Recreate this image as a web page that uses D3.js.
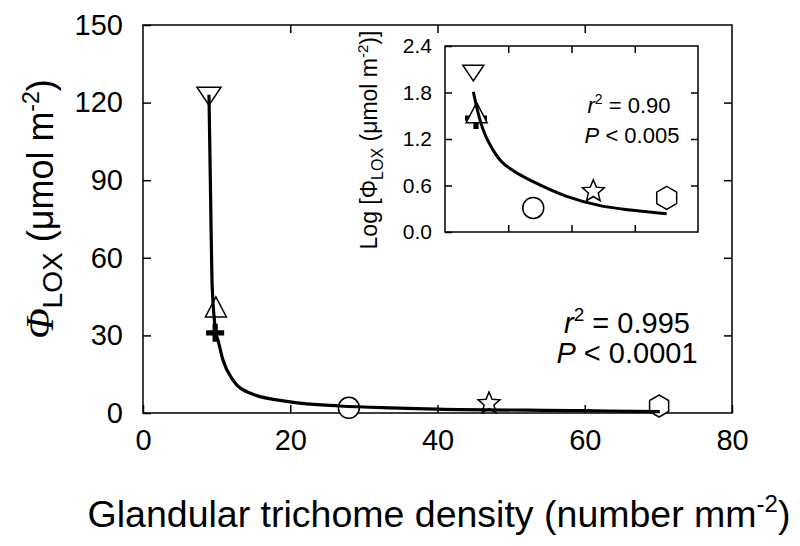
<!DOCTYPE html>
<meta charset="utf-8">
<style>

body {
  margin: 0;
  background: #fff;
}

svg {
  font-family: "Liberation Sans", Arial, sans-serif;
}

</style>
<svg></svg>
<script src="https://d3js.org/d3.v7.min.js"></script>
<script>

var width = 800,
    height = 546;

// main panel: measured points
var density = [8.96, 9.9, 9.8, 27.96, 47.0, 70.1];
var phiLox = [122.5, 41, 31, 2.0, 3.7, 2.7];
var markers = ["triDown", "triUp", "plus", "circle", "star", "hexagon"];

// main fitted curve
var fitX = [8.96, 9.19, 9.37, 9.9, 10.2, 10.86, 12.2, 14.5, 19.95, 26.7, 34.9, 39.9, 60, 70.2];
var fitY = [123, 82, 51, 31, 28, 20.5, 12.8, 7.7, 4.3, 2.7, 1.9, 1.5, 0.9, 0.5];

// inset: log of Phi_LOX
var insetDensity = [8.96, 10.0, 9.8, 27.9, 46.9, 70.1];
var logPhi = [2.05, 1.54, 1.47, 0.31, 0.525, 0.44];
var insetFitX = [8.96, 10.5, 15.3, 17.4, 22, 27.9, 38.5, 49, 59.5, 70.1];
var insetFitY = [1.81, 1.53, 1.05, 0.93, 0.78, 0.65, 0.46, 0.34, 0.28, 0.234];

var xTicks = [0, 20, 40, 60, 80];
var yTicks = [0, 30, 60, 90, 120, 150];
var insetYTicks = [0, 0.6, 1.2, 1.8, 2.4];

var svg = d3.select("svg")
    .attr("width", width)
    .attr("height", height);

// marker shapes as custom symbol types (size = r*r)
var shapes = {
  triDown: {draw: function(c, s) { var r = Math.sqrt(s);
    c.moveTo(-r, -0.75 * r); c.lineTo(r, -0.75 * r); c.lineTo(0, 0.75 * r); c.closePath(); }},
  triUp: {draw: function(c, s) { var r = Math.sqrt(s);
    c.moveTo(0, -0.95 * r); c.lineTo(r, 0.95 * r); c.lineTo(-r, 0.95 * r); c.closePath(); }},
  circle: {draw: function(c, s) { var r = Math.sqrt(s);
    c.moveTo(r, 0); c.arc(0, 0, r, 0, 2 * Math.PI); }},
  star: {draw: function(c, s) { var r = Math.sqrt(s), ri = r * 0.45;
    for (var i = 0; i < 10; i++) {
      var a = -Math.PI / 2 + i * Math.PI / 5, rr = i % 2 ? ri : r;
      if (i == 0) c.moveTo(rr * Math.cos(a), rr * Math.sin(a));
      else c.lineTo(rr * Math.cos(a), rr * Math.sin(a));
    }
    c.closePath(); }},
  hexagon: {draw: function(c, s) { var r = Math.sqrt(s);
    for (var i = 0; i < 6; i++) {
      var a = -Math.PI / 2 + i * Math.PI / 3;
      if (i == 0) c.moveTo(r * Math.cos(a), r * Math.sin(a));
      else c.lineTo(r * Math.cos(a), r * Math.sin(a));
    }
    c.closePath(); }},
  plus: {draw: function(c, s) { var r = Math.sqrt(s), t = 2.6;
    c.moveTo(-r, -t); c.lineTo(-t, -t); c.lineTo(-t, -r); c.lineTo(t, -r); c.lineTo(t, -t);
    c.lineTo(r, -t); c.lineTo(r, t); c.lineTo(t, t); c.lineTo(t, r); c.lineTo(-t, r);
    c.lineTo(-t, t); c.lineTo(-r, t); c.closePath(); }}
};

var mainSize = {triDown: 12, triUp: 10.5, plus: 9, circle: 10.5, star: 11.5, hexagon: 11};
var insetSize = {triDown: 10.5, triUp: 10.5, plus: 11, circle: 10.5, star: 11.5, hexagon: 11.5};

// draw order: plus first so the triangles sit on top of it
var order = [2, 0, 1, 3, 4, 5];

function drawPanel(g, xs, ys, xv, yv, fx, fy, sizes, lw) {
  g.append("g").selectAll("path")
    .data(order)
    .enter().append("path")
      .attr("transform", function(i) { return "translate(" + xs(xv[i]) + "," + ys(yv[i]) + ")"; })
      .attr("d", function(i) {
        var r = sizes[markers[i]];
        return d3.symbol().type(shapes[markers[i]]).size(r * r)();
      })
      .attr("fill", function(i) { return markers[i] == "plus" ? "#000" : "#fff"; })
      .attr("stroke", function(i) { return markers[i] == "plus" ? "none" : "#000"; })
      .attr("stroke-width", 1.5);

  var line = d3.line()
      .x(function(d) { return xs(d[0]); })
      .y(function(d) { return ys(d[1]); })
      .curve(d3.curveMonotoneX);

  g.append("path")
      .datum(d3.zip(fx, fy))
      .attr("d", line)
      .attr("fill", "none")
      .attr("stroke", "#000")
      .attr("stroke-width", lw);
}

// ---------- main panel ----------
var x = d3.scaleLinear().domain([0, 80]).range([143, 732]);
var y = d3.scaleLinear().domain([0, 150]).range([413, 25]);

var main = svg.append("g");

main.append("g")
    .attr("transform", "translate(0," + y(0) + ")")
    .call(d3.axisBottom(x).tickValues(xTicks).tickSize(-8).tickPadding(16))
    .call(styleAxis, 29);

main.append("g")
    .attr("transform", "translate(" + x(0) + ",0)")
    .call(d3.axisLeft(y).tickValues(yTicks).tickSize(-8).tickPadding(20))
    .call(styleAxis, 29);

main.append("g")
    .attr("transform", "translate(0," + y(150) + ")")
    .call(d3.axisTop(x).tickValues([20, 40, 60]).tickSize(-8).tickFormat(""))
    .call(styleAxis, 29);

main.append("g")
    .attr("transform", "translate(" + x(80) + ",0)")
    .call(d3.axisRight(y).tickValues([30, 60, 90, 120]).tickSize(-8).tickFormat(""))
    .call(styleAxis, 29);

main.append("rect")
    .attr("x", x(0)).attr("y", y(150))
    .attr("width", x(80) - x(0)).attr("height", y(0) - y(150))
    .attr("fill", "none").attr("stroke", "#000").attr("stroke-width", 1.5);

drawPanel(main, x, y, density, phiLox, fitX, fitY, mainSize, 3.2);

// axis titles
var xt = svg.append("text")
    .attr("x", 439).attr("y", 527)
    .attr("text-anchor", "middle")
    .style("font-size", "37.5px");
xt.append("tspan").text("Glandular trichome density (number mm");
xt.append("tspan").attr("dy", -15).style("font-size", "24px").text("-2");
xt.append("tspan").attr("dy", 15).text(")");

var yt = svg.append("text")
    .attr("transform", "translate(53,209) rotate(-90)")
    .attr("text-anchor", "middle")
    .style("font-size", "36px");
yt.append("tspan").style("font-family", "'Liberation Serif', serif").style("font-style", "italic")
    .style("font-size", "40px").text("\u03A6");
yt.append("tspan").attr("dy", 9).style("font-size", "28px").text("LOX");
yt.append("tspan").attr("dy", -9).text(" (\u03BCmol m");
yt.append("tspan").attr("dy", -14).style("font-size", "23px").text("-2");
yt.append("tspan").attr("dy", 14).text(")");

// main statistics
var s1 = svg.append("text").attr("x", 627).attr("y", 333)
    .attr("text-anchor", "middle").style("font-size", "29px");
s1.append("tspan").style("font-style", "italic").text("r");
s1.append("tspan").attr("dy", -12).style("font-size", "19px").text("2");
s1.append("tspan").attr("dy", 12).text(" = 0.995");

var s2 = svg.append("text").attr("x", 627).attr("y", 363)
    .attr("text-anchor", "middle").style("font-size", "29px");
s2.append("tspan").style("font-style", "italic").text("P");
s2.append("tspan").text(" < 0.0001");

// ---------- inset ----------
var xi = d3.scaleLinear().domain([0, 80]).range([445, 698]);
var yi = d3.scaleLinear().domain([0, 2.4]).range([232, 46]);

var inset = svg.append("g");

inset.append("g")
    .attr("transform", "translate(" + xi(0) + ",0)")
    .call(d3.axisLeft(yi).tickValues(insetYTicks).tickSize(-7).tickPadding(13).tickFormat(d3.format(".1f")))
    .call(styleAxis, 21);

inset.append("g")
    .attr("transform", "translate(" + xi(80) + ",0)")
    .call(d3.axisRight(yi).tickValues([0.6, 1.2, 1.8]).tickSize(-7).tickFormat(""))
    .call(styleAxis, 21);

inset.append("g")
    .attr("transform", "translate(0," + yi(0) + ")")
    .call(d3.axisBottom(xi).tickValues([20, 40, 60]).tickSize(-7).tickFormat(""))
    .call(styleAxis, 21);

inset.append("g")
    .attr("transform", "translate(0," + yi(2.4) + ")")
    .call(d3.axisTop(xi).tickValues([20, 40, 60]).tickSize(-7).tickFormat(""))
    .call(styleAxis, 21);

inset.append("rect")
    .attr("x", xi(0)).attr("y", yi(2.4))
    .attr("width", xi(80) - xi(0)).attr("height", yi(0) - yi(2.4))
    .attr("fill", "none").attr("stroke", "#000").attr("stroke-width", 1.5);

drawPanel(inset, xi, yi, insetDensity, logPhi, insetFitX, insetFitY, insetSize, 3);

var it = svg.append("text")
    .attr("transform", "translate(377,140) rotate(-90)")
    .attr("text-anchor", "middle")
    .style("font-size", "23px");
it.append("tspan").text("Log [\u03A6");
it.append("tspan").attr("dy", 6).style("font-size", "16px").text("LOX");
it.append("tspan").attr("dy", -6).text(" (\u03BCmol m");
it.append("tspan").attr("dy", -9).style("font-size", "15px").text("-2");
it.append("tspan").attr("dy", 9).text(")]");

var i1 = svg.append("text").attr("x", 629).attr("y", 113)
    .attr("text-anchor", "middle").style("font-size", "22px");
i1.append("tspan").style("font-style", "italic").text("r");
i1.append("tspan").attr("dy", -9).style("font-size", "14px").text("2");
i1.append("tspan").attr("dy", 9).text(" = 0.90");

var i2 = svg.append("text").attr("x", 632).attr("y", 143)
    .attr("text-anchor", "middle").style("font-size", "22px");
i2.append("tspan").style("font-style", "italic").text("P");
i2.append("tspan").text(" < 0.005");

function styleAxis(g, fs) {
  g.select(".domain").remove();
  g.selectAll(".tick line").attr("stroke", "#000").attr("stroke-width", 1.5);
  g.selectAll(".tick text")
      .attr("fill", "#000")
      .style("font-family", "'Liberation Sans', Arial, sans-serif")
      .style("font-size", fs + "px");
}

</script>
